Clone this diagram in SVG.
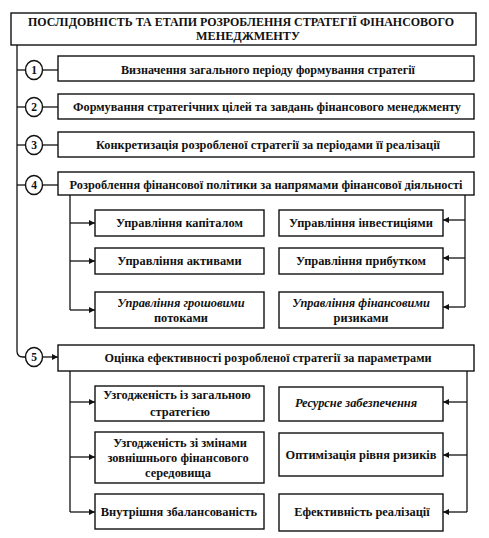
<svg xmlns="http://www.w3.org/2000/svg" width="489" height="538" viewBox="0 0 489 538">
<defs>
<marker id="ah" viewBox="0 0 8 8" refX="8" refY="4" markerWidth="6" markerHeight="6" markerUnits="userSpaceOnUse" orient="auto">
<path d="M0,0 L8,4 L0,8 Z" fill="#111"/>
</marker>
<style>
rect{fill:#fff;stroke:#111;stroke-width:1.4}
ellipse{fill:#fff;stroke:#111;stroke-width:1.4}
text{font-family:"Liberation Serif","Times New Roman",serif;font-weight:bold;font-size:12.2px;fill:#111;text-anchor:middle}
.sub{font-size:12.4px}
.it{font-style:italic}
.num{font-size:11.5px}
#connectors path,#connectors line{fill:none;stroke:#111;stroke-width:1.3}
.arr{marker-end:url(#ah)}
</style>
</defs>
<rect x="0" y="0" width="489" height="538" style="fill:#fff;stroke:none"/>
<g id="connectors">
<path d="M17,45 V351 Q17,357 23,357 H25.5"/>
<line x1="17" y1="70" x2="25.5" y2="70"/>
<line x1="17" y1="107" x2="25.5" y2="107"/>
<line x1="17" y1="145" x2="25.5" y2="145"/>
<line x1="17" y1="185" x2="25.5" y2="185"/>
<line x1="42.5" y1="70" x2="58" y2="70"/>
<line x1="42.5" y1="107" x2="58" y2="107"/>
<line x1="42.5" y1="145" x2="58" y2="145"/>
<line x1="42.5" y1="185" x2="58" y2="185"/>
<line class="arr" x1="42.5" y1="357" x2="58" y2="357"/>
<line x1="70" y1="195" x2="70" y2="310"/>
<line class="arr" x1="70" y1="223" x2="95" y2="223"/>
<line class="arr" x1="70" y1="261" x2="95" y2="261"/>
<line class="arr" x1="70" y1="310" x2="95" y2="310"/>
<line x1="465" y1="195" x2="465" y2="307"/>
<line class="arr" x1="465" y1="220" x2="443" y2="220"/>
<line class="arr" x1="465" y1="258" x2="443" y2="258"/>
<line class="arr" x1="465" y1="307" x2="443" y2="307"/>
<line x1="70" y1="371" x2="70" y2="512"/>
<line class="arr" x1="70" y1="402" x2="95" y2="402"/>
<line class="arr" x1="70" y1="457" x2="95" y2="457"/>
<line class="arr" x1="70" y1="512" x2="95" y2="512"/>
<line x1="467" y1="371" x2="467" y2="512"/>
<line class="arr" x1="467" y1="402" x2="443" y2="402"/>
<line class="arr" x1="467" y1="455" x2="443" y2="455"/>
<line class="arr" x1="467" y1="512" x2="443" y2="512"/>
</g>
<g id="title">
<rect x="11" y="13" width="465" height="32"/>
<text x="241" y="26" textLength="426" lengthAdjust="spacingAndGlyphs">ПОСЛІДОВНІСТЬ ТА ЕТАПИ РОЗРОБЛЕННЯ СТРАТЕГІЇ ФІНАНСОВОГО</text>
<text x="248" y="40">МЕНЕДЖМЕНТУ</text>
</g>
<g id="c1"><ellipse cx="34" cy="70" rx="8.5" ry="9.5"/><text class="num" x="34" y="74">1</text></g>
<g id="c2"><ellipse cx="34" cy="107" rx="8.5" ry="9.5"/><text class="num" x="34" y="111">2</text></g>
<g id="c3"><ellipse cx="34" cy="145" rx="8.5" ry="9.5"/><text class="num" x="34" y="149">3</text></g>
<g id="c4"><ellipse cx="34" cy="185" rx="8.5" ry="9.5"/><text class="num" x="34" y="189">4</text></g>
<g id="c5"><ellipse cx="34" cy="357" rx="8.5" ry="9.5"/><text class="num" x="34" y="361">5</text></g>
<g id="s1"><rect x="58" y="56" width="416" height="25"/><text x="268" y="74" textLength="294" lengthAdjust="spacingAndGlyphs">Визначення загального періоду формування стратегії</text></g>
<g id="s2"><rect x="58" y="94" width="416" height="25"/><text x="267" y="111" textLength="388" lengthAdjust="spacingAndGlyphs">Формування стратегічних цілей та завдань фінансового менеджменту</text></g>
<g id="s3"><rect x="58" y="132" width="416" height="25"/><text x="268" y="149" textLength="344" lengthAdjust="spacingAndGlyphs">Конкретизація розробленої стратегії за періодами її реалізації</text></g>
<g id="s4"><rect x="58" y="172" width="416" height="23"/><text x="266" y="189" textLength="393" lengthAdjust="spacingAndGlyphs">Розроблення фінансової політики за напрямами фінансової діяльності</text></g>
<g id="s5"><rect x="58" y="345" width="416" height="26"/><text x="268" y="362" textLength="327" lengthAdjust="spacingAndGlyphs">Оцінка ефективності розробленої стратегії за параметрами</text></g>
<g id="p1"><rect x="95" y="210" width="169" height="26"/><text class="sub" x="179.5" y="227">Управління капіталом</text></g>
<g id="p2"><rect x="279" y="210" width="164" height="26"/><text class="sub" x="361" y="227">Управління інвестиціями</text></g>
<g id="p3"><rect x="95" y="248" width="169" height="26"/><text class="sub" x="179.5" y="265">Управління активами</text></g>
<g id="p4"><rect x="279" y="248" width="164" height="26"/><text class="sub" x="361" y="265">Управління прибутком</text></g>
<g id="p5"><rect x="95" y="292" width="169" height="36"/><text class="sub it" x="181" y="307">Управління грошовими</text><text class="sub" x="181" y="322">потоками</text></g>
<g id="p6"><rect x="279" y="292" width="164" height="36"/><text class="sub it" x="361" y="307">Управління фінансовими</text><text class="sub" x="361" y="322">ризиками</text></g>
<g id="e1"><rect x="95" y="386" width="169" height="35"/><text class="sub" x="177" y="399">Узгодженість із загальною</text><text class="sub" x="180" y="416">стратегією</text></g>
<g id="e2"><rect x="279" y="387" width="164" height="34"/><text class="sub it" x="356" y="407">Ресурсне забезпечення</text></g>
<g id="e3"><rect x="95" y="432" width="169" height="51"/><text class="sub" x="180" y="447">Узгодженість зі змінами</text><text class="sub" x="178" y="462">зовнішнього фінансового</text><text class="sub" x="178" y="477">середовища</text></g>
<g id="e4"><rect x="279" y="433" width="164" height="43"/><text class="sub" x="361" y="459">Оптимізація рівня ризиків</text></g>
<g id="e5"><rect x="95" y="494" width="169" height="35"/><text class="sub" x="179" y="516">Внутрішня збалансованість</text></g>
<g id="e6"><rect x="279" y="494" width="164" height="37"/><text class="sub" x="362" y="516">Ефективність реалізації</text></g>
</svg>
